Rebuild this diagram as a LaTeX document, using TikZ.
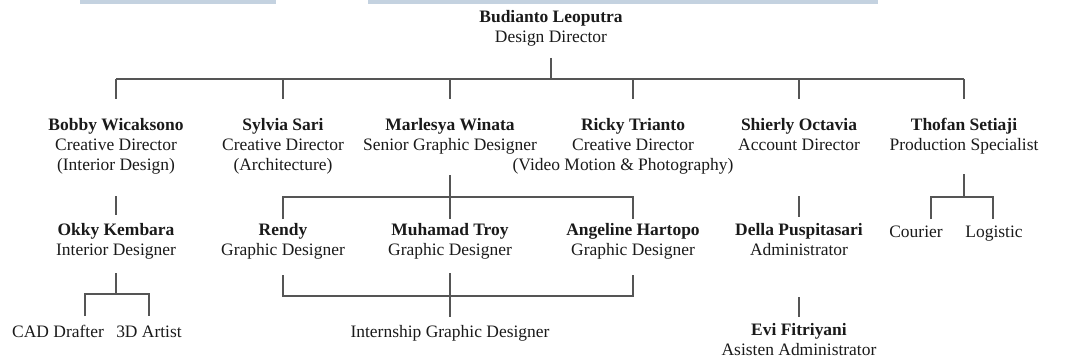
\documentclass[tikz,border=0pt]{standalone}
\usepackage{fontspec}
\setmainfont{Liberation Serif}
\definecolor{ink}{HTML}{1A1A1A}
\definecolor{linec}{HTML}{555555}
\definecolor{barblue}{HTML}{C4D2E0}
\tikzset{
  lbl/.style={anchor=north, inner sep=0pt, align=center, text=ink,
    font=\fontsize{13.1}{15.2}\selectfont, execute at begin node=\strut},
  conn/.style={draw=linec, line width=1pt},
  bar/.style={fill=barblue, draw=none}
}
\begin{document}
\begin{tikzpicture}[x=0.75pt, y=-0.75pt]
\useasboundingbox (0,0) rectangle (1065,360);
% header bars
\fill[bar] (80,0) rectangle (276,4);
\fill[bar] (368,0) rectangle (878,4);
% level 0
\node[lbl] (top) at (551,9.8) {\textbf{Budianto Leoputra}\\Design Director};
% level 1
\node[lbl] (bobby) at (116,117.8) {\textbf{Bobby Wicaksono}\\Creative Director\\(Interior Design)};
\node[lbl] (sylvia) at (283,117.8) {\textbf{Sylvia Sari}\\Creative Director\\(Architecture)};
\node[lbl] (marlesya) at (450,117.8) {\textbf{Marlesya Winata}\\Senior Graphic Designer};
\node[lbl] (ricky) at (633,117.8) {\textbf{Ricky Trianto}\\Creative Director\\(Video Motion \& Photography)\hspace*{15pt}};
\node[lbl] (shierly) at (799,117.8) {\textbf{Shierly Octavia}\\Account Director};
\node[lbl] (thofan) at (964,117.8) {\textbf{Thofan Setiaji}\\Production Specialist};
% level 2
\node[lbl] (okky) at (116,222.8) {\textbf{Okky Kembara}\\Interior Designer};
\node[lbl] (rendy) at (283,222.8) {\textbf{Rendy}\\Graphic Designer};
\node[lbl] (troy) at (450,222.8) {\textbf{Muhamad Troy}\\Graphic Designer};
\node[lbl] (angeline) at (633,222.8) {\textbf{Angeline Hartopo}\\Graphic Designer};
\node[lbl] (della) at (799,222.8) {\textbf{Della Puspitasari}\\Administrator};
\node[lbl] (courier) at (916,222.8) {Courier};
\node[lbl] (logistic) at (994,222.8) {Logistic};
% level 3
\node[lbl] (cad) at (58,322.8) {CAD Drafter};
\node[lbl] (artist) at (149,322.8) {3D Artist};
\node[lbl] (intern) at (450,322.8) {Internship Graphic Designer};
\node[lbl] (evi) at (799,322.8) {\textbf{Evi Fitriyani}\\Asisten Administrator};
% connectors level 0 -> 1
\draw[conn] (top |- 0,58) -- (top |- 0,79);
\draw[conn] (bobby |- 0,79) -- (thofan |- 0,79);
\foreach \n in {bobby,sylvia,marlesya,ricky,shierly,thofan}
  \draw[conn] (\n |- 0,79) -- (\n |- 0,99);
% level 1 -> 2
\draw[conn] (bobby |- 0,196) -- (okky |- 0,215);
\draw[conn] (marlesya |- 0,175) -- (troy |- 0,219);
\draw[conn] (rendy |- 0,219) -- (rendy |- 0,197) -- (angeline |- 0,197) -- (angeline |- 0,219);
\draw[conn] (shierly |- 0,196) -- (della |- 0,217);
\coordinate (cl) at (931,197);
\coordinate (ll) at (993,197);
\draw[conn] (thofan |- 0,174) -- (thofan |- cl);
\draw[conn] (cl |- 0,219) -- (cl) -- (ll) -- (ll |- 0,219);
% level 2 -> 3
\coordinate (cadl) at (85,294);
\coordinate (artl) at (149,294);
\draw[conn] (okky |- 0,273) -- (okky |- cadl);
\draw[conn] (cadl |- 0,316) -- (cadl) -- (artl) -- (artl |- 0,316);
\draw[conn] (rendy |- 0,275) -- (rendy |- 0,296) -- (angeline |- 0,296) -- (angeline |- 0,275);
\draw[conn] (troy |- 0,273) -- (intern |- 0,317);
\draw[conn] (della |- 0,297) -- (evi |- 0,317);
\end{tikzpicture}
\end{document}
